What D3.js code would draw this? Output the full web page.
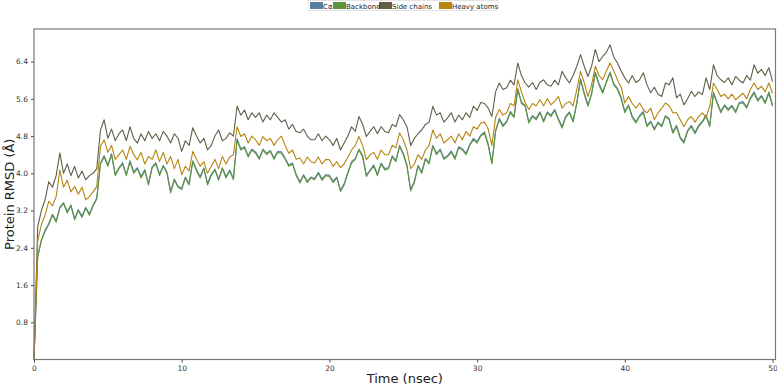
<!DOCTYPE html>
<html>
<head>
<meta charset="utf-8">
<script src="https://cdn.jsdelivr.net/npm/d3@7"></script>
<style>
  body { margin: 0; background: #fff; }
  text { font-family: "DejaVu Sans", sans-serif; }
</style>
</head>
<body>
<div id="canvas"></div>
<script>
"use strict";

// Series names + colours
let seriesNames = ["C\u03b1", "Backbone", "Side chains", "Heavy atoms"];
let seriesColors = ["#5b7f9e", "#5e9440", "#625d49", "#b5850f"];

// Time step of the trajectory samples (nsec)
let timeStep = 0.25;

// RMSD values, one value every 0.25 nsec (0 .. 50)
let caValues = [
  0, 2.22, 2.57, 2.78, 2.92, 3.12, 2.98, 3.27, 3.37, 3.18, 3.32, 3.03, 3.22, 3.08, 3.27, 3.13,
  3.32, 3.47, 4.22, 4.38, 4.18, 4.42, 3.98, 4.12, 4.23, 3.97, 4.27, 4.03, 4.12, 3.93, 4.08, 3.78,
  4.14, 4.23, 3.98, 4.17, 4.03, 3.61, 3.88, 3.72, 3.68, 3.92, 3.78, 4.27, 4.08, 3.93, 4.12, 3.78,
  3.98, 4.09, 3.88, 4.12, 3.93, 4.07, 3.89, 4.74, 4.53, 4.57, 4.38, 4.52, 4.46, 4.33, 4.52, 4.43,
  4.49, 4.33, 4.47, 4.46, 4.33, 4.18, 4.22, 3.98, 3.82, 3.97, 3.83, 3.92, 3.89, 4.02, 3.88, 3.97,
  3.96, 3.83, 3.92, 3.64, 3.78, 4.02, 4.25, 4.32, 4.52, 4.38, 3.96, 4.07, 4.18, 3.98, 4.22, 4.10,
  4.12, 4.38, 4.27, 4.60, 4.43, 4.18, 3.65, 3.83, 4.17, 4.03, 4.32, 4.23, 4.60, 4.43, 4.52, 4.33,
  4.38, 4.48, 4.33, 4.57, 4.53, 4.43, 4.62, 4.75, 4.68, 4.82, 4.89, 4.63, 4.23, 4.92, 5.18, 5.03,
  5.12, 5.33, 5.22, 5.82, 5.53, 5.46, 5.11, 5.24, 5.18, 5.32, 5.13, 5.32, 5.25, 5.37, 5.18, 5.00,
  5.23, 5.32, 5.13, 5.52, 6.03, 5.73, 5.47, 5.72, 6.17, 5.93, 5.75, 5.97, 6.18, 5.92, 5.83, 5.63,
  5.33, 5.47, 5.23, 5.11, 5.24, 5.33, 5.03, 5.12, 4.96, 5.10, 5.03, 5.24, 5.18, 4.89, 5.03, 4.78,
  4.68, 4.92, 5.03, 4.88, 5.03, 5.12, 5.25, 5.03, 5.74, 5.53, 5.33, 5.47, 5.38, 5.46, 5.33, 5.52,
  5.54, 5.43, 5.62, 5.75, 5.58, 5.67, 5.53, 5.75, 5.47
];
let backboneValues = [
  0, 2.20, 2.55, 2.75, 2.90, 3.10, 2.95, 3.25, 3.35, 3.15, 3.30, 3.00, 3.20, 3.05, 3.25, 3.10,
  3.30, 3.45, 4.20, 4.35, 4.15, 4.40, 3.95, 4.10, 4.20, 3.95, 4.25, 4.00, 4.10, 3.90, 4.05, 3.75,
  4.12, 4.20, 3.95, 4.15, 4.00, 3.58, 3.85, 3.70, 3.65, 3.90, 3.75, 4.25, 4.05, 3.90, 4.10, 3.75,
  3.95, 4.07, 3.85, 4.10, 3.90, 4.05, 3.86, 4.72, 4.50, 4.55, 4.35, 4.50, 4.43, 4.30, 4.50, 4.40,
  4.47, 4.30, 4.45, 4.43, 4.30, 4.15, 4.20, 3.95, 3.79, 3.95, 3.80, 3.90, 3.86, 4.00, 3.85, 3.95,
  3.93, 3.80, 3.90, 3.61, 3.75, 4.00, 4.22, 4.30, 4.50, 4.35, 3.93, 4.05, 4.15, 3.95, 4.20, 4.07,
  4.10, 4.35, 4.25, 4.58, 4.40, 4.15, 3.62, 3.80, 4.15, 4.00, 4.30, 4.20, 4.58, 4.40, 4.50, 4.30,
  4.36, 4.45, 4.30, 4.55, 4.50, 4.40, 4.60, 4.72, 4.65, 4.80, 4.86, 4.60, 4.20, 4.90, 5.15, 5.00,
  5.10, 5.30, 5.20, 5.80, 5.50, 5.44, 5.08, 5.22, 5.15, 5.30, 5.10, 5.30, 5.22, 5.35, 5.15, 4.97,
  5.20, 5.30, 5.10, 5.50, 6.01, 5.70, 5.44, 5.70, 6.15, 5.90, 5.72, 5.95, 6.15, 5.90, 5.80, 5.60,
  5.30, 5.45, 5.20, 5.08, 5.22, 5.30, 5.00, 5.10, 4.93, 5.08, 5.00, 5.22, 5.15, 4.86, 5.00, 4.75,
  4.65, 4.90, 5.00, 4.85, 5.00, 5.10, 5.22, 5.00, 5.72, 5.50, 5.30, 5.45, 5.35, 5.44, 5.30, 5.50,
  5.51, 5.40, 5.60, 5.72, 5.55, 5.65, 5.50, 5.72, 5.44
];
let sideChainValues = [
  0, 2.85, 3.20, 3.43, 3.82, 3.70, 3.95, 4.44, 4.00, 4.20, 3.95, 4.15, 3.90, 4.05, 3.86, 3.95,
  4.00, 4.10, 4.93, 5.15, 4.75, 4.95, 4.70, 4.85, 4.93, 4.70, 5.00, 4.75, 4.65, 4.85, 4.70, 4.90,
  4.75, 4.85, 4.70, 4.90, 4.80, 4.65, 4.85, 4.75, 4.47, 4.70, 4.60, 4.98, 4.80, 4.65, 4.75, 4.50,
  4.60, 4.80, 4.93, 4.70, 4.75, 4.87, 4.80, 5.44, 5.25, 5.36, 5.15, 5.30, 5.20, 5.30, 5.10, 5.25,
  5.15, 5.30, 5.20, 5.10, 5.15, 4.95, 5.05, 4.90, 4.87, 4.95, 4.80, 4.72, 4.72, 4.85, 4.70, 4.80,
  4.72, 4.60, 4.75, 4.50, 4.65, 4.80, 5.00, 4.90, 5.22, 5.05, 4.79, 4.90, 5.00, 4.85, 5.00, 4.90,
  4.87, 5.05, 5.00, 5.26, 5.15, 5.00, 4.60, 4.75, 4.85, 4.93, 5.05, 5.10, 5.44, 5.25, 5.30, 5.10,
  5.19, 5.30, 5.10, 5.25, 5.15, 5.30, 5.20, 5.44, 5.35, 5.52, 5.50, 5.40, 5.22, 5.75, 5.94, 5.80,
  5.84, 6.00, 5.90, 6.37, 6.10, 5.94, 5.85, 5.95, 5.80, 5.95, 6.01, 5.90, 5.87, 6.00, 5.90, 6.19,
  6.05, 5.94, 6.10, 6.30, 6.55, 6.30, 6.08, 6.30, 6.66, 6.40, 6.51, 6.60, 6.76, 6.50, 6.37, 6.20,
  6.05, 5.94, 6.10, 5.95, 6.01, 6.16, 5.90, 5.73, 5.85, 5.70, 5.65, 5.94, 5.90, 6.05, 5.62, 5.70,
  5.47, 5.60, 5.76, 5.65, 5.75, 5.69, 6.05, 5.80, 6.33, 6.10, 6.01, 5.95, 6.05, 5.90, 6.08, 6.00,
  5.94, 6.10, 6.00, 6.33, 6.15, 6.23, 6.10, 6.27, 5.97
];
let heavyAtomValues = [
  0, 2.55, 2.90, 3.10, 3.40, 3.30, 3.50, 4.07, 3.70, 3.85, 3.60, 3.72, 3.55, 3.70, 3.43, 3.50,
  3.60, 3.72, 4.58, 4.72, 4.45, 4.60, 4.30, 4.40, 4.50, 4.30, 4.58, 4.40, 4.29, 4.45, 4.20, 4.36,
  4.30, 4.50, 4.25, 4.45, 4.20, 4.36, 4.10, 4.30, 3.97, 4.15, 4.05, 4.47, 4.30, 4.15, 4.25, 4.00,
  4.15, 4.30, 4.10, 4.36, 4.20, 4.35, 4.40, 5.00, 4.79, 4.85, 4.65, 4.80, 4.72, 4.60, 4.79, 4.70,
  4.75, 4.60, 4.72, 4.80, 4.60, 4.43, 4.50, 4.30, 4.33, 4.20, 4.35, 4.25, 4.22, 4.35, 4.20, 4.30,
  4.29, 4.15, 4.25, 4.12, 4.20, 4.35, 4.50, 4.60, 4.79, 4.60, 4.29, 4.40, 4.45, 4.30, 4.50, 4.40,
  4.40, 4.60, 4.55, 4.87, 4.72, 4.50, 4.10, 4.20, 4.40, 4.30, 4.50, 4.60, 4.93, 4.75, 4.85, 4.65,
  4.72, 4.80, 4.65, 4.85, 4.72, 4.90, 4.80, 5.00, 4.95, 5.08, 5.10, 4.95, 4.60, 5.20, 5.37, 5.25,
  5.30, 5.50, 5.45, 6.01, 5.75, 5.52, 5.37, 5.50, 5.45, 5.58, 5.45, 5.60, 5.47, 5.55, 5.65, 5.40,
  5.50, 5.54, 5.45, 5.80, 6.19, 5.95, 5.65, 5.90, 6.30, 6.10, 6.01, 6.20, 6.37, 6.20, 6.01, 5.85,
  5.51, 5.65, 5.50, 5.40, 5.51, 5.37, 5.30, 5.40, 5.15, 5.30, 5.40, 5.51, 5.45, 5.30, 5.30, 5.15,
  5.00, 5.15, 5.22, 5.10, 5.22, 5.30, 5.20, 5.44, 5.94, 5.80, 5.65, 5.70, 5.60, 5.70, 5.58, 5.65,
  5.72, 5.60, 5.80, 5.94, 5.80, 5.87, 5.75, 5.94, 5.72
];
let allSeries = [caValues, backboneValues, sideChainValues, heavyAtomValues];

// Tick labels
let xTicks = [0, 10, 20, 30, 40, 50];
let yTicks = [0.8, 1.6, 2.4, 3.2, 4.0, 4.8, 5.6, 6.4];

// Canvas setup
let svgWidth = 777;
let svgHeight = 386;
let plot = { left: 34, right: 775.5, top: 29, bottom: 359.5 };

let svg = d3.select("#canvas")
  .append("svg")
  .attr("width", svgWidth)
  .attr("height", svgHeight)
  .style("display", "block");

// Scales
let xScale = d3.scaleLinear().domain([0, 50.2]).range([plot.left, plot.right]);
let yScale = d3.scaleLinear().domain([0, 7.1]).range([plot.bottom, plot.top]);

// Lines (first drawn = underneath)
let line = d3.line()
  .x(function(d, i) { return xScale(i * timeStep); })
  .y(function(d) { return yScale(d); });

let lineGroup = svg.append("g");
for (let s = 0; s < allSeries.length; s++) {
  lineGroup.append("path")
    .datum(allSeries[s])
    .attr("d", line)
    .attr("fill", "none")
    .attr("stroke", seriesColors[s])
    .attr("stroke-width", 1.1)
    .attr("stroke-linejoin", "round");
}

// Axes
let xAxis = svg.append("g")
  .attr("transform", "translate(0," + plot.bottom + ")")
  .call(d3.axisBottom(xScale).tickValues(xTicks).tickSize(3).tickFormat(d3.format("d")));
let yAxis = svg.append("g")
  .attr("transform", "translate(" + plot.left + ",0)")
  .call(d3.axisLeft(yScale).tickValues(yTicks).tickSize(3).tickFormat(d3.format(".1f")));

[xAxis, yAxis].forEach(function(ax) {
  ax.select(".domain").remove();
  ax.selectAll("line").attr("stroke", "#444");
  ax.selectAll("text")
    .attr("fill", "#333")
    .style("font-size", "7.5px")
    .style("font-family", "'DejaVu Sans', sans-serif");
});

// Frame (spines)
svg.append("rect")
  .attr("x", plot.left)
  .attr("y", plot.top)
  .attr("width", plot.right - plot.left)
  .attr("height", plot.bottom - plot.top)
  .attr("fill", "none")
  .attr("stroke", "#777")
  .attr("stroke-width", 1.2);

// Axis labels
svg.append("text")
  .attr("x", (plot.left + plot.right) / 2)
  .attr("y", 383)
  .attr("text-anchor", "middle")
  .style("font-size", "13px")
  .attr("fill", "#222")
  .text("Time (nsec)");

svg.append("text")
  .attr("transform", "translate(14," + ((plot.top + plot.bottom) / 2) + ") rotate(-90)")
  .attr("text-anchor", "middle")
  .style("font-size", "13px")
  .attr("fill", "#222")
  .text("Protein RMSD (\u00c5)");

// Legend on top (patches first, labels drawn over them)
let legend = svg.append("g").attr("transform", "translate(308,0)");
legend.append("rect")
  .attr("x", 0).attr("y", 0.5)
  .attr("width", 190).attr("height", 10)
  .attr("fill", "#fff")
  .attr("stroke", "#ddd")
  .attr("stroke-width", 0.8);

let legendX = [2, 25, 71, 131];
for (let i = 0; i < seriesNames.length; i++) {
  legend.append("rect")
    .attr("x", legendX[i]).attr("y", 2)
    .attr("width", 13).attr("height", 7)
    .attr("fill", seriesColors[i]);
}
for (let i = 0; i < seriesNames.length; i++) {
  legend.append("text")
    .attr("x", legendX[i] + 13).attr("y", 8.6)
    .style("font-size", "7px")
    .attr("fill", "#222")
    .text(seriesNames[i]);
}
</script>
</body>
</html>
